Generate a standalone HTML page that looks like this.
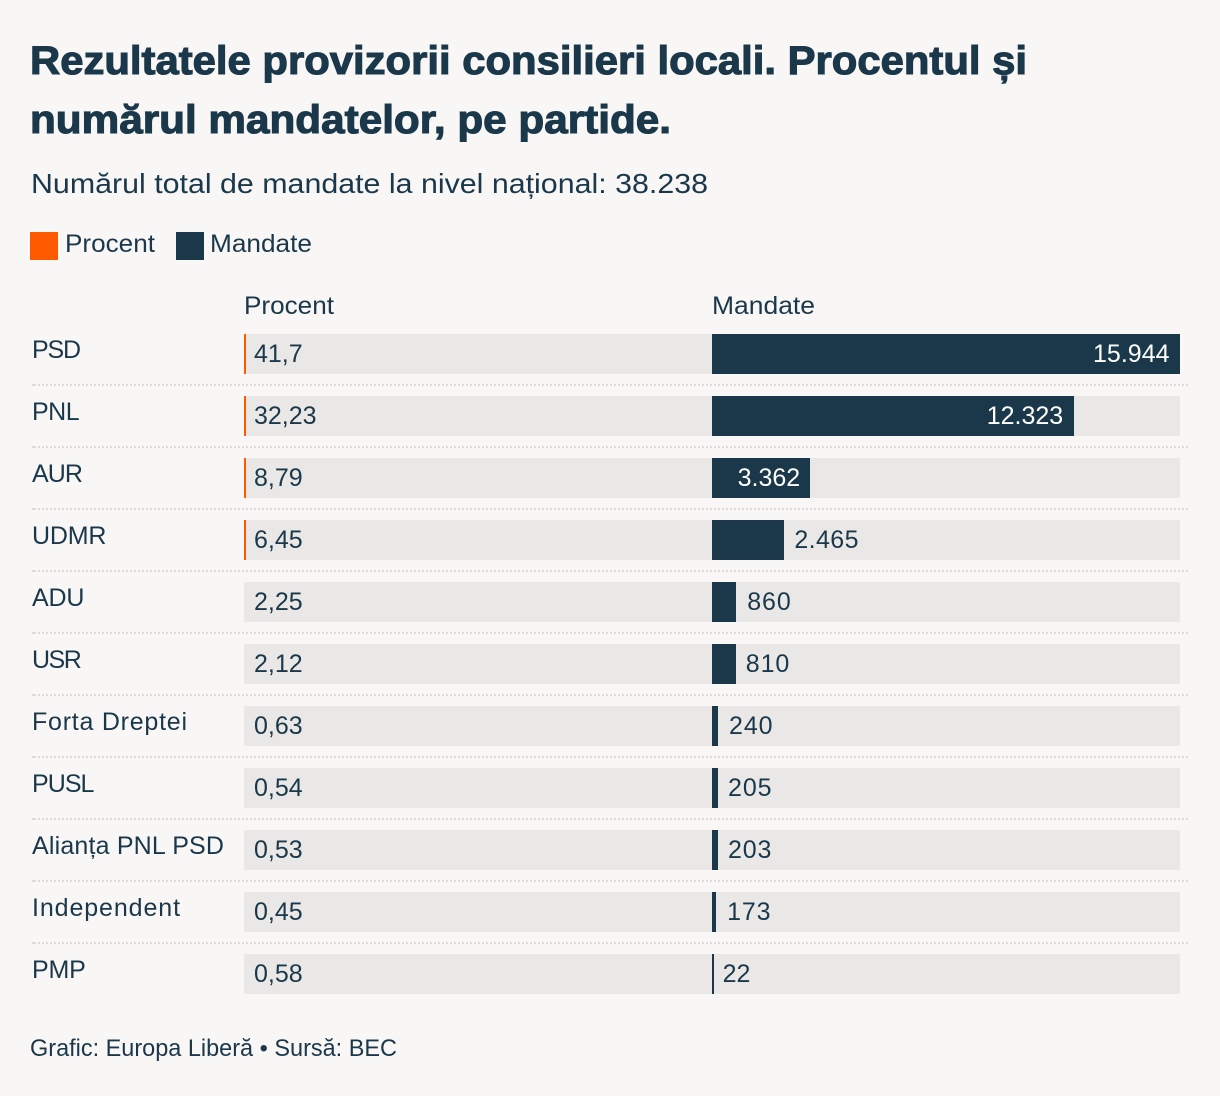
<!DOCTYPE html>
<html lang="ro">
<head>
<meta charset="utf-8">
<title>Rezultatele provizorii consilieri locali</title>
<style>
  html, body { margin: 0; padding: 0; background: #f9f7f6; }
  svg { display: block; }
  text { font-family: "Liberation Sans", sans-serif; fill: #1a384a; }
</style>
</head>
<body>
<svg id="chart" xmlns="http://www.w3.org/2000/svg" width="1220" height="1096" viewBox="0 0 1220 1096">
  <rect x="0" y="0" width="1220" height="1096" fill="#f9f7f6"/>
  <text x="30" y="74" font-size="40" font-weight="700" stroke="#1a384a" stroke-width="1.1" textLength="997" lengthAdjust="spacingAndGlyphs">Rezultatele provizorii consilieri locali. Procentul și</text>
  <text x="30" y="133" font-size="40" font-weight="700" stroke="#1a384a" stroke-width="1.1" textLength="641" lengthAdjust="spacingAndGlyphs">numărul mandatelor, pe partide.</text>
  <text x="31" y="193" font-size="28" textLength="677" lengthAdjust="spacingAndGlyphs">Numărul total de mandate la nivel național: 38.238</text>

  <rect x="30" y="232" width="28" height="28" fill="#ff5a00"/>
  <text x="65" y="252" font-size="25" textLength="90" lengthAdjust="spacingAndGlyphs">Procent</text>
  <rect x="176" y="232" width="28" height="28" fill="#1a384a"/>
  <text x="210" y="252" font-size="25" textLength="102" lengthAdjust="spacingAndGlyphs">Mandate</text>

  <text x="244" y="314" font-size="25" textLength="90" lengthAdjust="spacingAndGlyphs">Procent</text>
  <text x="712" y="314" font-size="25" textLength="103" lengthAdjust="spacingAndGlyphs">Mandate</text>

  <g id="rows"></g>

  <text x="30" y="1056" font-size="24.5" textLength="367" lengthAdjust="spacingAndGlyphs">Grafic: Europa Liberă • Sursă: BEC</text>
</svg>
<script>
const parties = ["PSD", "PNL", "AUR", "UDMR", "ADU", "USR", "Forta Dreptei", "PUSL", "Alianța PNL PSD", "Independent", "PMP"];
const percentLabels = ["41,7", "32,23", "8,79", "6,45", "2,25", "2,12", "0,63", "0,54", "0,53", "0,45", "0,58"];
const percentValues = [41.7, 32.23, 8.79, 6.45, 2.25, 2.12, 0.63, 0.54, 0.53, 0.45, 0.58];
const mandateLabels = ["15.944", "12.323", "3.362", "2.465", "860", "810", "240", "205", "203", "173", "22"];
const mandateValues = [15944, 12323, 3362, 2465, 860, 810, 240, 205, 203, 173, 22];

const SVG_NS = "http://www.w3.org/2000/svg";
const TOP = 334, ROW_STEP = 62, ROW_H = 40;
const PCT_X = 244, MAN_X = 712, TRACK_W = 468;
const DOMAIN_MAX = 15944;
const LABEL_TRACKING = { "PSD": -1.2, "PNL": -0.5, "AUR": -0.9, "UDMR": -0.2, "ADU": -0.2, "USR": -1.5, "Forta Dreptei": 0.76, "PUSL": -0.95, "Alianța PNL PSD": 0.18, "Independent": 0.9, "PMP": -0.2 };
const rowsGroup = document.getElementById("rows");

function xScale(v) { return v / DOMAIN_MAX * TRACK_W; }
function barWidth(v) {
  const w = xScale(v);
  if (w < 0.1) return 0;
  return Math.max(2, Math.floor((w + 0.5) / 2) * 2);
}
function rowY(i) { return TOP + i * ROW_STEP; }

function make(tag, attrs, parent) {
  const el = document.createElementNS(SVG_NS, tag);
  for (const k in attrs) el.setAttribute(k, attrs[k]);
  parent.appendChild(el);
  return el;
}

parties.forEach(function (party, i) {
  const y = rowY(i);
  const slug = party.toLowerCase().replace(/[^a-z0-9]+/g, "-");

  const label = make("text", { x: 32, y: y + 24, "font-size": 25, "letter-spacing": LABEL_TRACKING[party] || 0 }, rowsGroup);
  label.textContent = party;
  
  

  const pctTrack = make("rect", { x: PCT_X, y: y, width: TRACK_W, height: ROW_H, fill: "#e9e8e6" }, rowsGroup);
  
  

  const pctBar = make("rect", { x: PCT_X, y: y, width: barWidth(percentValues[i]), height: ROW_H, fill: "#ff5a00" }, rowsGroup);
  
  

  const pctText = make("text", { x: PCT_X + Math.max(0, xScale(percentValues[i]) - 2) + 10, y: y + 28, "font-size": 25 }, rowsGroup);
  pctText.textContent = percentLabels[i];
  
  

  const manTrack = make("rect", { x: MAN_X, y: y, width: TRACK_W, height: ROW_H, fill: "#e9e8e6" }, rowsGroup);
  
  

  const manBar = make("rect", { x: MAN_X, y: y, width: barWidth(mandateValues[i]), height: ROW_H, fill: "#1a384a" }, rowsGroup);
  
  

  const w = xScale(mandateValues[i]);
  const inside = w > 85;
  const tracking = inside ? 0 : (mandateLabels[i].length === 3 ? 0.9 : (mandateLabels[i].length === 5 ? 0.4 : 0));
  const manText = make("text", {
    x: inside ? MAN_X + w - 10.5 : MAN_X + w + 10,
    y: y + 28,
    "font-size": 25,
    "letter-spacing": tracking,
    "text-anchor": inside ? "end" : "start"
  }, rowsGroup);
  if (inside) manText.style.fill = "#ffffff";
  manText.textContent = mandateLabels[i];
  
  

  if (i < parties.length - 1) {
    const rule = make("line", { x1: 34, x2: 1188, y1: y + 51, y2: y + 51, stroke: "#dcdbd8", "stroke-width": 2, "stroke-dasharray": "2 2" }, rowsGroup);
    
    

    const ruleCap = make("line", { x1: 32, x2: 34, y1: y + 51, y2: y + 51, stroke: "#dcdbd8", "stroke-width": 2 }, rowsGroup);
    
    
  }
});
</script>
</body>
</html>
